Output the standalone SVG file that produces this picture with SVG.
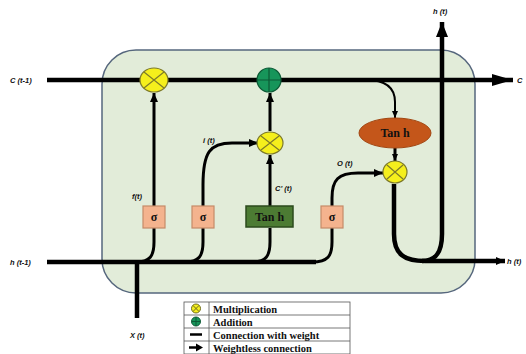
<svg xmlns="http://www.w3.org/2000/svg" width="526" height="354" viewBox="0 0 526 354">
  <defs>
    <marker id="arr" markerUnits="userSpaceOnUse" markerWidth="10" markerHeight="10" refX="9" refY="5" orient="auto">
      <path d="M0,1 L9,5 L0,9 Z" fill="#000"/>
    </marker>
    <marker id="arrSmall" markerUnits="userSpaceOnUse" markerWidth="8" markerHeight="8" refX="7" refY="4" orient="auto">
      <path d="M0,1 L7,4 L0,7 Z" fill="#000"/>
    </marker>
    <marker id="arrBig" markerUnits="userSpaceOnUse" markerWidth="22" markerHeight="14" refX="21" refY="7" orient="auto">
      <path d="M0,1 L21,7 L0,13 Z" fill="#000"/>
    </marker>
    <marker id="arrUp" markerUnits="userSpaceOnUse" markerWidth="16" markerHeight="14" refX="15" refY="7" orient="auto">
      <path d="M0,1 L15,7 L0,13 Z" fill="#000"/>
    </marker>
  </defs>
  <style>
    .cell { fill: #e2ecd9; stroke: #56677d; stroke-width: 1.5; }
    .main { fill: none; stroke: #000; stroke-width: 4.5; }
    .wire { fill: none; stroke: #000; stroke-width: 3; }
    .thin { fill: none; stroke: #000; stroke-width: 2; }
    .mul { fill: #f5ef1c; stroke: #7d7a2a; stroke-width: 1.2; }
    .mulx { stroke: #7d7a2a; stroke-width: 1.2; }
    .add { fill: #17955a; stroke: #0d5a36; stroke-width: 1.2; }
    .sig { fill: #f4b38e; stroke: #c58a68; stroke-width: 1.2; }
    .tanbox { fill: #4c7b33; stroke: #2b4a1d; stroke-width: 1.5; }
    .tanell { fill: #c4561a; stroke: #a24510; stroke-width: 1; }
    .op { font-family: "Liberation Serif", serif; font-weight: bold; font-size: 12px; fill: #111; text-anchor: middle; }
    .lbl { font-family: "Liberation Sans", sans-serif; font-weight: bold; font-style: italic; font-size: 7.5px; fill: #111; }
    .leg { font-family: "Liberation Serif", serif; font-weight: bold; font-size: 10.5px; fill: #111; }
    .tbl { fill: #fff; stroke: #555; stroke-width: 0.8; }
  </style>

  <!-- cell body -->
  <rect class="cell" x="102" y="50" width="373" height="243" rx="34" ry="34"/>

  <!-- connectors -->
  <g id="connectors">
    <!-- cell state -->
    <path class="main" d="M47,80 L513,80" marker-end="url(#arrBig)"/>
    <!-- hidden state in -->
    <path class="main" d="M47,262 L316,262"/>
    <!-- input x(t) -->
    <path class="main" d="M137,262 L137,318"/>
    <!-- forget gate -->
    <path class="wire" d="M154,206 L154,93" marker-end="url(#arr)"/>
    <path class="wire" d="M154,228 L154,242 C154,256 150,262 136,262"/>
    <!-- input gate -->
    <path class="wire" d="M203,206 L203,185 C203,152 210,143 232,143 L258,143" marker-end="url(#arr)"/>
    <path class="wire" d="M203,228 L203,242 C203,256 199,262 185,262"/>
    <!-- candidate -->
    <path class="wire" d="M270,206 L270,155" marker-end="url(#arr)"/>
    <path class="wire" d="M270,228 L270,242 C270,256 266,262 252,262"/>
    <!-- product into sum -->
    <path class="wire" d="M270,131 L270,93" marker-end="url(#arr)"/>
    <!-- output gate -->
    <path class="wire" d="M332,206 L332,198 C332,180 338,173 358,173 L383,173" marker-end="url(#arr)"/>
    <path class="wire" d="M332,228 L332,242 C332,256 328,262 312,262"/>
    <!-- cell state to tanh -->
    <path class="thin" d="M366,80 Q395,80 395,102 L395,118" marker-end="url(#arrSmall)"/>
    <path class="wire" d="M395,148 L395,161" marker-end="url(#arrSmall)"/>
    <!-- hidden state out -->
    <path class="main" d="M394,184 L394,234 C394,254 404,261 425,261 L505,261" marker-end="url(#arr)"/>
    <path class="main" d="M422,261 C436,261 442,252 442,234 L442,22" marker-end="url(#arrUp)"/>
  </g>

  <!-- operators -->
  <g id="mul-forget">
    <ellipse class="mul" cx="154" cy="80" rx="14" ry="12"/>
    <path class="mulx" d="M144,72 L164,88 M164,72 L144,88"/>
  </g>
  <g id="add-cell">
    <circle class="add" cx="269" cy="80" r="12"/>
    <path stroke="#0d5a36" stroke-width="1.2" d="M257,80 L281,80 M269,68 L269,92"/>
  </g>
  <g id="mul-input">
    <ellipse class="mul" cx="270" cy="143" rx="13" ry="11"/>
    <path class="mulx" d="M261,136 L279,150 M279,136 L261,150"/>
  </g>
  <g id="mul-output">
    <ellipse class="mul" cx="395" cy="172" rx="12" ry="11"/>
    <path class="mulx" d="M387,165 L403,179 M403,165 L387,179"/>
  </g>
  <g id="tanh-out">
    <ellipse class="tanell" cx="395" cy="133" rx="36" ry="15"/>
    <text class="op" x="395" y="137">Tan h</text>
  </g>

  <!-- gates -->
  <g id="sigma-forget">
    <rect class="sig" x="143" y="206" width="22" height="22"/>
    <text class="op" x="154" y="221">σ</text>
  </g>
  <g id="sigma-input">
    <rect class="sig" x="192" y="206" width="22" height="22"/>
    <text class="op" x="203" y="221">σ</text>
  </g>
  <g id="tanh-candidate">
    <rect class="tanbox" x="246" y="206" width="47" height="21"/>
    <text class="op" x="269.5" y="221">Tan h</text>
  </g>
  <g id="sigma-output">
    <rect class="sig" x="321" y="206" width="22" height="22"/>
    <text class="op" x="332" y="221">σ</text>
  </g>

  <!-- labels -->
  <g id="labels">
    <text class="lbl" x="10" y="83">C (t-1)</text>
    <text class="lbl" x="517" y="83">C</text>
    <text class="lbl" x="433" y="14">h (t)</text>
    <text class="lbl" x="10" y="265">h (t-1)</text>
    <text class="lbl" x="507" y="264">h (t)</text>
    <text class="lbl" x="130" y="338">X (t)</text>
    <text class="lbl" x="132" y="199">f(t)</text>
    <text class="lbl" x="203" y="143">i (t)</text>
    <text class="lbl" x="275" y="191">C' (t)</text>
    <text class="lbl" x="337" y="166">O (t)</text>
  </g>

  <!-- legend -->
  <g id="legend">
    <rect class="tbl" x="184" y="302" width="166" height="52"/>
    <path stroke="#555" stroke-width="0.8" d="M209,302 L209,354 M184,315 L350,315 M184,328 L350,328 M184,341 L350,341"/>
    <circle cx="196" cy="308.5" r="4.5" fill="#f5ef1c" stroke="#6f6c1e" stroke-width="1"/>
    <path stroke="#6f6c1e" stroke-width="1" d="M193,305.5 L199,311.5 M199,305.5 L193,311.5"/>
    <circle cx="196" cy="321.5" r="4.5" fill="#17955a" stroke="#0d5a36" stroke-width="1"/>
    <path stroke="#0d5a36" stroke-width="1" d="M191.5,321.5 L200.5,321.5 M196,317 L196,326"/>
    <path stroke="#000" stroke-width="2.5" d="M190,334.5 L202,334.5"/>
    <path stroke="#000" stroke-width="2.5" d="M189,347.5 L197,347.5"/>
    <path fill="#000" d="M196,343.5 L203,347.5 L196,351.5 Z"/>
    <text class="leg" x="213" y="312.5">Multiplication</text>
    <text class="leg" x="213" y="325.5">Addition</text>
    <text class="leg" x="213" y="338.5">Connection with weight</text>
    <text class="leg" x="213" y="351.5">Weightless connection</text>
  </g>
</svg>
